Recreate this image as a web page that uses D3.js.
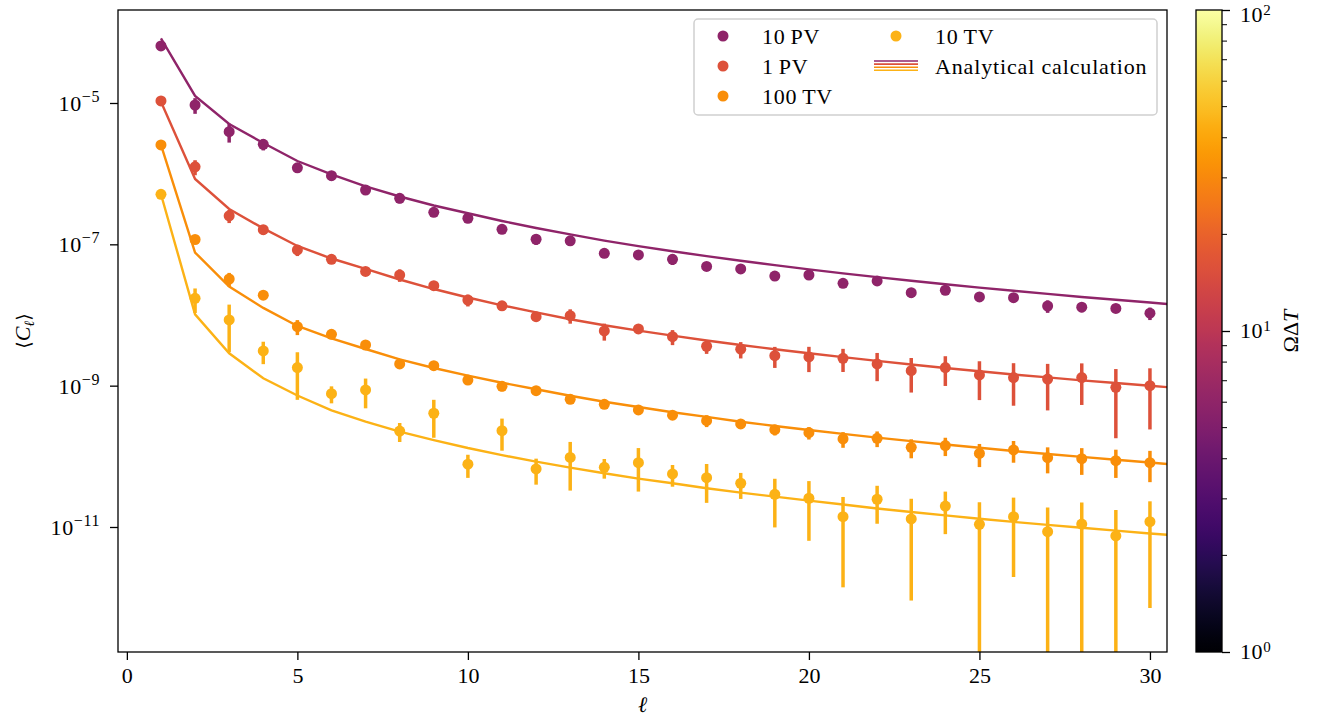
<!DOCTYPE html>
<html><head><meta charset="utf-8">
<script src="https://cdn.jsdelivr.net/npm/d3@7"></script>
<style>
body{margin:0;background:#fff}
text{font-family:"Liberation Serif","DejaVu Serif",serif;fill:#000}
</style>
</head><body>
<svg id="chart" width="1334" height="721"></svg>
<script>
// ---------------- data ----------------
const ell = [1,2,3,4,5,6,7,8,9,10,11,12,13,14,15,16,17,18,19,20,21,22,23,24,25,26,27,28,29,30];
const ellLine = [1,2,3,4,5,6,7,8,9,10,11,12,13,14,15,16,17,18,19,20,21,22,23,24,25,26,27,28,29,30,31];
const seriesNames = ["10\u2009PV","1\u2009PV","100\u2009TV","10\u2009TV"];
const omegaDeltaT = [6.0, 15.8, 32, 45];

const cl10PV = [6.41e-5,9.37e-6,3.93e-6,2.60e-6,1.21e-6,9.36e-7,5.87e-7,4.48e-7,2.84e-7,2.34e-7,
  1.63e-7,1.18e-7,1.12e-7,7.47e-8,7.07e-8,6.14e-8,4.86e-8,4.48e-8,3.56e-8,3.68e-8,
  2.81e-8,3.03e-8,2.07e-8,2.24e-8,1.80e-8,1.76e-8,1.34e-8,1.29e-8,1.24e-8,1.06e-8];
const cl1PV = [1.07e-5,1.25e-6,2.53e-7,1.61e-7,8.32e-8,6.14e-8,4.13e-8,3.68e-8,2.60e-8,1.63e-8,
  1.35e-8,9.46e-9,9.78e-9,5.94e-9,6.34e-9,4.93e-9,3.61e-9,3.28e-9,2.66e-9,2.55e-9,
  2.44e-9,2.03e-9,1.63e-9,1.80e-9,1.42e-9,1.30e-9,1.24e-9,1.30e-9,9.49e-10,1.00e-9];
const cl100TV = [2.55e-6,1.17e-7,3.23e-8,1.91e-8,6.83e-9,5.33e-9,3.76e-9,2.03e-9,1.92e-9,1.20e-9,
  9.80e-10,8.49e-10,6.42e-10,5.45e-10,4.53e-10,3.82e-10,3.20e-10,2.87e-10,2.38e-10,2.16e-10,
  1.76e-10,1.80e-10,1.34e-10,1.42e-10,1.10e-10,1.23e-10,9.57e-11,9.26e-11,8.68e-11,8.13e-11];
const cl10TV = [5.11e-7,1.72e-8,8.50e-9,3.10e-9,1.80e-9,7.70e-10,8.69e-10,2.28e-10,4.07e-10,7.74e-11,
  2.31e-10,6.62e-11,9.63e-11,7.00e-11,8.13e-11,5.63e-11,4.99e-11,4.16e-11,2.90e-11,2.55e-11,
  1.40e-11,2.47e-11,1.30e-11,1.98e-11,1.09e-11,1.40e-11,8.59e-12,1.10e-11,7.46e-12,1.19e-11];

// fractional (relative) 1-sigma errors
const relErr10PV = [0.08,0.25,0.30,0.18,0.10,0.15,0.10,0.15,0.10,0.10,0.12,0.17,0.10,0.10,0.10,
  0.17,0.10,0.10,0.14,0.12,0.10,0.10,0.15,0.10,0.15,0.12,0.20,0.15,0.12,0.20];
const relErr1PV = [0.05,0.24,0.21,0.15,0.18,0.10,0.10,0.20,0.10,0.19,0.12,0.12,0.23,0.27,0.12,
  0.24,0.22,0.26,0.33,0.39,0.36,0.43,0.51,0.45,0.56,0.60,0.64,0.59,0.81,0.76];
const relErr100TV = [0.05,0.10,0.22,0.05,0.24,0.10,0.10,0.12,0.10,0.10,0.15,0.10,0.12,0.10,0.12,
  0.10,0.19,0.15,0.17,0.20,0.25,0.25,0.30,0.29,0.36,0.34,0.40,0.41,0.43,0.47];
const relErr10TV = [0.05,0.38,0.65,0.35,0.65,0.27,0.45,0.30,0.55,0.36,0.48,0.40,0.66,0.31,0.61,
  0.34,0.56,0.40,0.66,0.75,0.90,0.55,0.93,0.60,1.05,0.86,1.20,1.02,1.33,0.94];

// analytical calculation
const an10PV = [8.23e-5,1.26e-5,5.04e-6,2.72e-6,1.51e-6,9.80e-7,6.63e-7,4.75e-7,3.54e-7,2.75e-7,
  2.14e-7,1.70e-7,1.38e-7,1.13e-7,9.44e-8,7.97e-8,6.80e-8,5.85e-8,5.07e-8,4.42e-8,
  3.88e-8,3.43e-8,3.05e-8,2.72e-8,2.44e-8,2.20e-8,1.99e-8,1.80e-8,1.64e-8,1.50e-8,1.37e-8];
const an1PV = [1.04e-5,8.41e-7,3.16e-7,1.68e-7,9.47e-8,6.30e-8,4.48e-8,3.18e-8,2.33e-8,1.77e-8,
  1.37e-8,1.09e-8,8.72e-9,7.17e-9,6.00e-9,5.10e-9,4.36e-9,3.76e-9,3.28e-9,2.87e-9,
  2.53e-9,2.24e-9,1.99e-9,1.78e-9,1.60e-9,1.44e-9,1.31e-9,1.19e-9,1.09e-9,9.96e-10,9.12e-10];
const an100TV = [2.55e-6,7.66e-8,2.52e-8,1.26e-8,6.99e-9,4.68e-9,3.30e-9,2.36e-9,1.78e-9,1.39e-9,
  1.10e-9,8.89e-10,7.21e-10,5.93e-10,4.99e-10,4.20e-10,3.61e-10,3.09e-10,2.69e-10,2.36e-10,
  2.08e-10,1.84e-10,1.64e-10,1.47e-10,1.32e-10,1.19e-10,1.08e-10,9.82e-11,8.94e-11,8.16e-11,7.47e-11];
const an10TV = [5.11e-7,1.02e-8,2.87e-9,1.27e-9,7.26e-10,4.46e-10,3.09e-10,2.23e-10,1.70e-10,1.31e-10,
  1.04e-10,8.40e-11,6.91e-11,5.76e-11,4.83e-11,4.16e-11,3.53e-11,3.06e-11,2.69e-11,2.36e-11,
  2.08e-11,1.83e-11,1.63e-11,1.46e-11,1.31e-11,1.18e-11,1.07e-11,9.75e-12,8.87e-12,8.10e-12,7.42e-12];

const xTicks = [0,5,10,15,20,25,30];
const yTickExps = [-5,-7,-9,-11];
const cbMajor = [1,10,100];
const cbMinor = [2,3,4,5,6,7,8,9,20,30,40,50,60,70,80,90];

// ---------------- layout ----------------
const svg = d3.select("#chart");
const P = {l:118, r:1167, t:10, b:652};
const x = d3.scaleLinear().domain([-0.26, 30.5]).range([P.l, P.r]);
const y = d3.scaleLog().domain([Math.pow(10,-3.684), Math.pow(10,-12.769)]).range([P.t, P.b]);
const cScale = d3.scaleLog().domain([1,100]).range([0,1]);
const colorOf = v => d3.interpolateInferno(cScale(v));

const series = [
  {name:seriesNames[0], vals:cl10PV, err:relErr10PV, an:an10PV, c:colorOf(omegaDeltaT[0])},
  {name:seriesNames[1], vals:cl1PV, err:relErr1PV, an:an1PV, c:colorOf(omegaDeltaT[1])},
  {name:seriesNames[2], vals:cl100TV, err:relErr100TV, an:an100TV, c:colorOf(omegaDeltaT[2])},
  {name:seriesNames[3], vals:cl10TV, err:relErr10TV, an:an10TV, c:colorOf(omegaDeltaT[3])}
];

const defs = svg.append("defs");
defs.append("clipPath").attr("id","clip").append("rect")
  .attr("x",P.l).attr("y",P.t).attr("width",P.r-P.l).attr("height",P.b-P.t);

const plot = svg.append("g").attr("clip-path","url(#clip)");

series.forEach(s => {
  const pts = ell.map((l,i)=>({l, v:s.vals[i], e:s.err[i]}));
  plot.append("g").selectAll("line").data(pts).join("line")
    .attr("x1",d=>x(d.l)).attr("x2",d=>x(d.l))
    .attr("y1",d=>y(d.v*(1+d.e)))
    .attr("y2",d=> d.e>=1 ? P.b+20 : y(d.v*(1-d.e)))
    .attr("stroke",s.c).attr("stroke-width",3.5);
  plot.append("g").selectAll("circle").data(pts).join("circle")
    .attr("cx",d=>x(d.l)).attr("cy",d=>y(d.v)).attr("r",5.5).attr("fill",s.c);
});
const lineGen = d3.line().x(d=>x(d[0])).y(d=>y(d[1]));
series.forEach(s => {
  plot.append("path").datum(ellLine.map((l,i)=>[l, s.an[i]]))
    .attr("d",lineGen).attr("fill","none").attr("stroke",s.c).attr("stroke-width",2.4);
});

// ---------------- axes ----------------
const fs = 22;
const xAx = svg.append("g").attr("transform",`translate(0,${P.b})`)
  .call(d3.axisBottom(x).tickValues(xTicks).tickSize(8).tickPadding(7).tickFormat(d3.format("d")));
xAx.select(".domain").remove();
xAx.selectAll(".tick line").attr("stroke","#000").attr("stroke-width",1.3);
xAx.selectAll(".tick text").attr("font-size",fs).attr("font-family","Liberation Serif");

const yAx = svg.append("g").attr("transform",`translate(${P.l},0)`)
  .call(d3.axisLeft(y).tickValues(yTickExps.map(e=>Math.pow(10,e))).tickSize(8).tickFormat(""));
yAx.select(".domain").remove();
yAx.selectAll(".tick line").attr("stroke","#000").attr("stroke-width",1.3);
yTickExps.forEach(e => {
  const t = svg.append("text").attr("x",P.l-18).attr("y",y(Math.pow(10,e))+8)
    .attr("text-anchor","end").attr("font-size",fs).attr("letter-spacing",0.6);
  t.append("tspan").text("10");
  t.append("tspan").attr("dy",-9).attr("font-size",16).text("\u2212"+Math.abs(e));
});

svg.append("rect").attr("x",P.l).attr("y",P.t).attr("width",P.r-P.l).attr("height",P.b-P.t)
  .attr("fill","none").attr("stroke","#000").attr("stroke-width",1.3);

// axis labels
svg.append("text").attr("x",(P.l+P.r)/2).attr("y",712).attr("text-anchor","middle")
  .attr("font-size",fs).attr("font-style","italic").attr("font-family","DejaVu Serif").text("\u2113");
const yl = svg.append("text").attr("transform",`translate(30,${(P.t+P.b)/2}) rotate(-90)`)
  .attr("text-anchor","middle").attr("font-size",fs);
yl.append("tspan").attr("font-family","DejaVu Serif").attr("font-size",19).text("\u27E8");
yl.append("tspan").attr("font-style","italic").text("C");
yl.append("tspan").attr("dy",4).attr("font-size",14).attr("font-style","italic").attr("font-family","DejaVu Serif").text("\u2113");
yl.append("tspan").attr("dy",-4).attr("font-family","DejaVu Serif").attr("font-size",19).text("\u27E9");

// ---------------- legend ----------------
const lg = svg.append("g");
lg.append("rect").attr("x",694).attr("y",19).attr("width",463).attr("height",96).attr("rx",4)
  .attr("fill","#fff").attr("fill-opacity",0.85).attr("stroke","#d0d0d0").attr("stroke-width",1.5);
const legPos = [[723,36],[723,66],[723,96],[896,36]];
series.forEach((s,i)=>{
  lg.append("circle").attr("cx",legPos[i][0]).attr("cy",legPos[i][1]).attr("r",5.5).attr("fill",s.c);
  lg.append("text").attr("x",legPos[i][0]+39).attr("y",legPos[i][1]+8).attr("font-size",fs)
    .attr("letter-spacing",0.7).text(s.name);
});
series.forEach((s,i)=>{
  lg.append("line").attr("x1",874).attr("x2",918).attr("y1",61+i*3.1).attr("y2",61+i*3.1)
    .attr("stroke",s.c).attr("stroke-width",1.6);
});
lg.append("text").attr("x",935).attr("y",74).attr("font-size",fs).attr("letter-spacing",0.85)
  .text("Analytical calculation");

// ---------------- colorbar ----------------
const cb = {x:1196, w:26, t:P.t, b:P.b};
const grad = defs.append("linearGradient").attr("id","cbgrad").attr("x1",0).attr("y1",1).attr("x2",0).attr("y2",0);
d3.range(0,1.0001,0.02).forEach(t=>grad.append("stop").attr("offset",t).attr("stop-color",d3.interpolateInferno(t)));
svg.append("rect").attr("x",cb.x).attr("y",cb.t).attr("width",cb.w).attr("height",cb.b-cb.t).attr("fill","url(#cbgrad)");
const cy = d3.scaleLog().domain([1,100]).range([cb.b,cb.t]);
const cbAx = svg.append("g").attr("transform",`translate(${cb.x+cb.w},0)`)
  .call(d3.axisRight(cy).tickValues(cbMajor).tickSize(8).tickFormat(""));
cbAx.select(".domain").remove();
cbAx.selectAll(".tick line").attr("stroke","#000").attr("stroke-width",1.3);
svg.append("g").selectAll("line").data(cbMinor).join("line")
  .attr("x1",cb.x+cb.w).attr("x2",cb.x+cb.w+5).attr("y1",d=>cy(d)).attr("y2",d=>cy(d))
  .attr("stroke","#000").attr("stroke-width",1);
svg.append("rect").attr("x",cb.x).attr("y",cb.t).attr("width",cb.w).attr("height",cb.b-cb.t)
  .attr("fill","none").attr("stroke","#000").attr("stroke-width",1.3);
cbMajor.forEach(v=>{
  const yy = Math.max(cy(v)+7, 22);
  const t = svg.append("text").attr("x",cb.x+cb.w+18).attr("y",yy).attr("font-size",fs).attr("letter-spacing",0.6);
  t.append("tspan").text("10");
  t.append("tspan").attr("dy",-7).attr("font-size",15).text(String(Math.round(Math.log10(v))));
});
const cl = svg.append("text").attr("transform",`translate(1298,${(cb.t+cb.b)/2}) rotate(-90)`)
  .attr("text-anchor","middle").attr("font-size",fs);
cl.append("tspan").text("\u03A9\u0394");
cl.append("tspan").attr("font-style","italic").text("T");
</script>
</body></html>
